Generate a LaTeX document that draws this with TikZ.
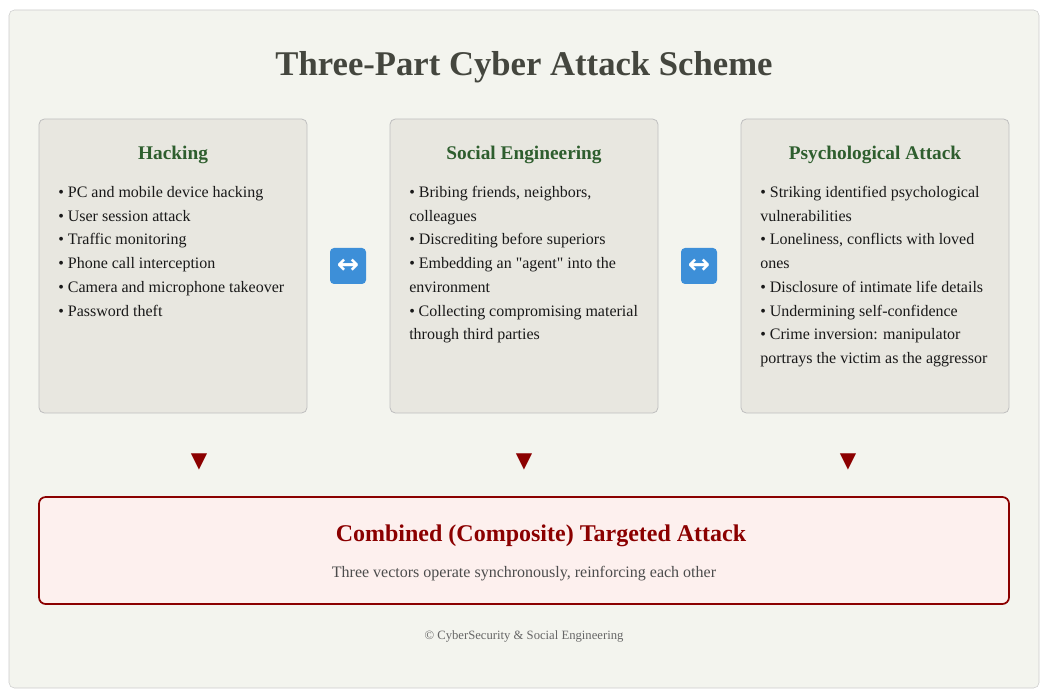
\documentclass[tikz,border=0pt]{standalone}
\usepackage{fontspec}
\setmainfont{Liberation Serif}
\newfontfamily\symfont{DejaVu Sans}
\usetikzlibrary{positioning}
\definecolor{pagebg}{HTML}{F3F4EE}
\definecolor{cardbg}{HTML}{E8E7E0}
\definecolor{headgreen}{HTML}{2E5E2E}
\definecolor{darkred}{HTML}{8B0000}
\definecolor{alertbg}{HTML}{FDF0EE}
\definecolor{titlegray}{HTML}{44463E}
\definecolor{iconblue}{HTML}{3D8FD8}
\newcommand\nohyph{\hyphenpenalty=10000 \exhyphenpenalty=10000 }

\begin{document}
\begin{tikzpicture}[x=0.75pt, y=-0.75pt,
    card/.style={draw=black!25, fill=cardbg, rounded corners=4pt, line width=0.6pt},
    heading/.style={font=\fontsize{14.5}{17}\selectfont\bfseries, text=headgreen},
    items/.style={anchor=north west, text width=171.5pt, align=flush left, inner sep=0pt, font=\fontsize{12}{17.8}\selectfont, text=black!90, execute at begin node=\nohyph},
    swap/.style={fill=iconblue, rounded corners=3pt, minimum size=27pt, inner sep=0pt, text=white, font=\symfont\fontsize{20}{20}\selectfont\bfseries},
    down/.style={text=darkred, font=\symfont\fontsize{16}{16}\selectfont}
    ]
    \useasboundingbox (0,0) rectangle (1049,698);
    \draw[draw=black!20, fill=pagebg, rounded corners=4pt] (9,10) rectangle (1039,688);

    % Title
    \node (title) [font=\fontsize{26}{30}\selectfont\bfseries, text=titlegray] at (524,67) {Three-Part Cyber Attack Scheme};

    % Cards
    \draw[card] (39,119) rectangle (307,413);
    \draw[card] (390,119) rectangle (658,413);
    \draw[card] (741,119) rectangle (1009,413);

    \node (hack) [heading] at (173,155) {Hacking};
    \node (social) [heading] at (524,155) {Social Engineering};
    \node (psych) [heading] at (875,155) {Psychological Attack};

    \node (hacklist) [items] at (58,186) {%
      • PC and mobile device hacking\\
      • User session attack\\
      • Traffic monitoring\\
      • Phone call interception\\
      • Camera and microphone takeover\\
      • Password theft};
    \node (sociallist) [items] at (409,186) {%
      • Bribing friends, neighbors, colleagues\\
      • Discrediting before superiors\\
      • Embedding an \textquotedbl agent\textquotedbl{} into the environment\\
      • Collecting compromising material through third parties};
    \node (psychlist) [items] at (760,186) {%
      • Striking identified psychological vulnerabilities\\
      • Loneliness, conflicts with loved ones\\
      • Disclosure of intimate life details\\
      • Undermining self-confidence\\
      • Crime inversion: manipulator portrays the victim as the aggressor};

    % Links between cards
    \node (swap1) [swap] at (348,266) {↔};
    \node (swap2) [swap] at (699,266) {↔};

    % Down markers
    \node (down1) [down] at (199,462) {▼};
    \node (down2) [down] at (524,462) {▼};
    \node (down3) [down] at (848,462) {▼};

    % Combined attack
    \draw[draw=darkred, fill=alertbg, rounded corners=5pt, line width=1.3pt] (39,497) rectangle (1009,604);
    \node (combo) [font=\fontsize{18}{21}\selectfont\bfseries, text=darkred] at (541,536) {Combined (Composite) Targeted Attack};
    \node (combotext) [font=\fontsize{12}{14}\selectfont, text=black!70] at (524,574) {Three vectors operate synchronously, reinforcing each other};

    % Footer
    \node (footer) [font=\fontsize{9.5}{11}\selectfont, text=black!60] at (524,636) {© CyberSecurity \& Social Engineering};
\end{tikzpicture}
\end{document}
